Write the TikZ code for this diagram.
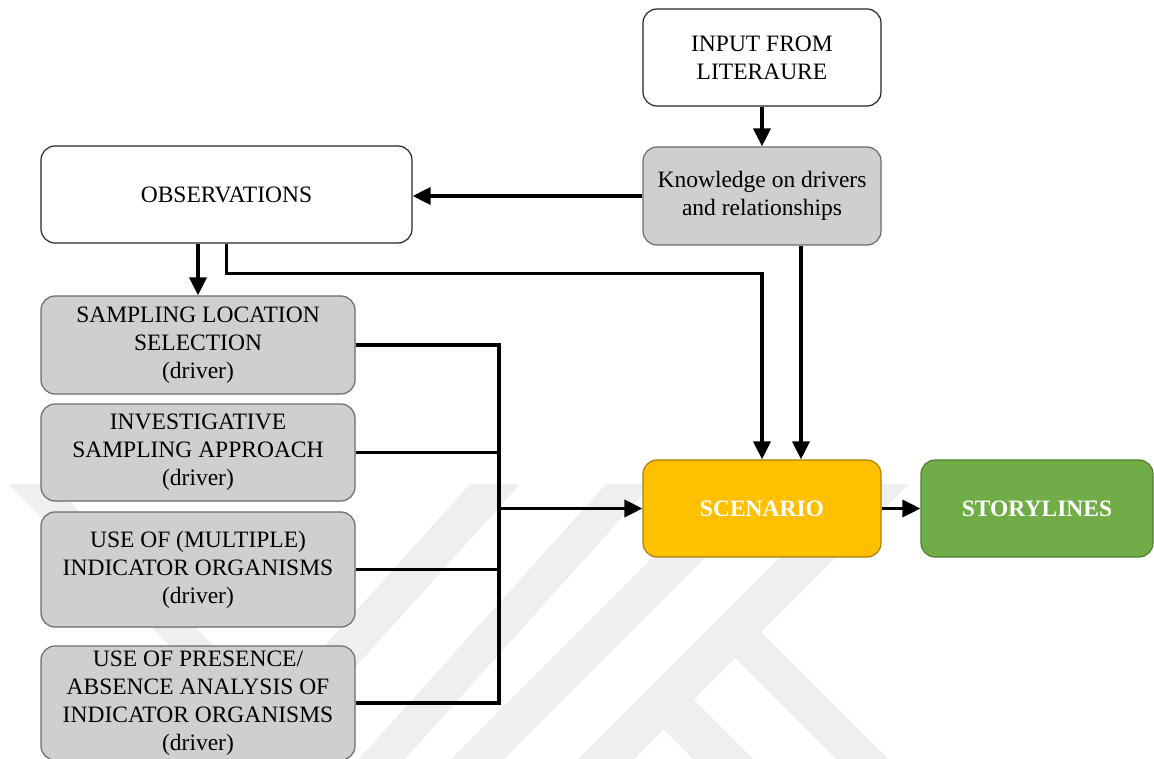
\documentclass[tikz,border=0pt]{standalone}
\usepackage{fontspec}
\setmainfont{Liberation Serif}
\usetikzlibrary{arrows.meta}

\definecolor{boxgray}{HTML}{D0CECE}
\definecolor{boxgrayline}{HTML}{6E6A6A}
\definecolor{scenfill}{HTML}{FFC000}
\definecolor{scenline}{HTML}{A88200}
\definecolor{storyfill}{HTML}{70AD47}
\definecolor{storyline}{HTML}{507E32}
\definecolor{mark}{RGB}{239,239,239}

\tikzset{
  basebox/.style={rectangle, rounded corners=14pt, inner sep=0pt, align=center,
    font=\fontsize{23.5}{28}\selectfont, line width=1.2pt},
  whitebox/.style={basebox, draw=black!85, fill=white},
  graybox/.style={basebox, draw=boxgrayline, fill=boxgray},
  scenbox/.style={basebox, draw=scenline, fill=scenfill, text=white,
    font=\fontsize{23.5}{28}\selectfont\bfseries},
  storybox/.style={basebox, draw=storyline, fill=storyfill, text=white,
    font=\fontsize{23.5}{28}\selectfont\bfseries},
  link/.style={line width=3.4pt, draw=black},
  flow/.style={link, -{Triangle[length=18pt,width=17pt]}},
  markband/.style={fill=mark, draw=none}
}

\begin{document}
\begin{tikzpicture}[x=1pt,y=-1pt]
\useasboundingbox[fill=white] (0,0) rectangle (1154,759);

% faint background emblem
\fill[markband] (8,484) -- (52,484) -- (327,759) -- (283,759) -- cycle;
\fill[markband] (470,484) -- (520,484) -- (273,759) -- (223,759) -- cycle;
\fill[markband] (606,484) -- (652,484) -- (405,759) -- (359,759) -- cycle;
\fill[markband] (726,484) -- (779,484) -- (504,759) -- (451,759) -- cycle;
\fill[markband] (853,484) -- (909,484) -- (634,759) -- (578,759) -- cycle;
\fill[markband] (755,626) -- (888,759) -- (836,759) -- (729,652) -- cycle;
\fill[markband] (687.5,693.5) -- (753,759) -- (693,759) -- (657.5,723.5) -- cycle;

% boxes
\node[whitebox, minimum width=238pt, minimum height=97pt] (input) at (762,57.5)
  {INPUT FROM\\LITERAURE};
\node[graybox, minimum width=238pt, minimum height=98pt] (know) at (762,196)
  {Knowledge on drivers\\and relationships};
\node[whitebox, minimum width=371pt, minimum height=97pt] (obs) at (226.5,194.5)
  {OBSERVATIONS};
\node[graybox, minimum width=314pt, minimum height=98pt] (samp) at (198,345)
  {SAMPLING LOCATION\\SELECTION\\(driver)};
\node[graybox, minimum width=314pt, minimum height=97pt] (inv) at (198,452.5)
  {INVESTIGATIVE\\SAMPLING APPROACH\\(driver)};
\node[graybox, minimum width=314pt, minimum height=115pt] (mult) at (198,569.5)
  {USE OF (MULTIPLE)\\INDICATOR ORGANISMS\\(driver)};
\node[graybox, minimum width=314pt, minimum height=114pt] (pres) at (198,703)
  {USE OF PRESENCE/\\ABSENCE ANALYSIS OF\\INDICATOR ORGANISMS\\(driver)};
\node[scenbox, minimum width=238pt, minimum height=97pt] (scen) at (762,508.5)
  {SCENARIO};
\node[storybox, minimum width=232pt, minimum height=97pt] (story) at (1037,508.5)
  {STORYLINES};

% collecting bus for the driver boxes
\coordinate (bus) at (499,508.5);

% connectors
\draw[flow] (input.south) -- (know.north);
\draw[flow] (know.west) -- (know.west -| obs.east);
\draw[flow] (samp.north |- obs.south) -- (samp.north);
\draw[flow] (obs.south) -- ++(0,30) -| (scen.north);
\draw[flow] ([xshift=39pt]know.south) -- ([xshift=39pt]scen.north);
\draw[link] (samp.east) -| (bus) |- (pres.east);
\draw[link] (inv.east) -- (inv.east -| bus);
\draw[link] (mult.east) -- (mult.east -| bus);
\draw[flow] (bus) -- (scen.west);
\draw[flow] (scen.east) -- (story.west);
\end{tikzpicture}
\end{document}
